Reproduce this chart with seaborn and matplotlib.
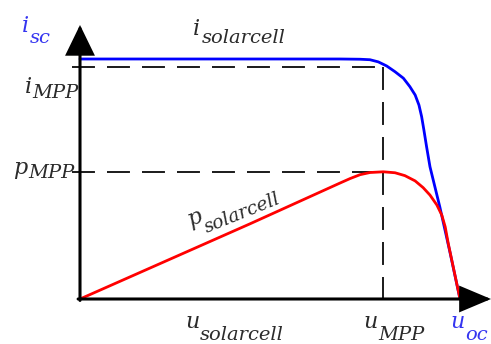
import matplotlib
matplotlib.use("Agg")
import matplotlib.pyplot as plt
from matplotlib.patches import FancyArrowPatch, ArrowStyle
import pandas as pd
import seaborn as sns

# Solar cell characteristics, normalised so that u_oc = 1 and i_sc = 1
u_iv = [0.0, 0.30, 0.684, 0.737, 0.763, 0.785, 0.807, 0.829, 0.851, 0.868,
        0.882, 0.892, 0.899, 0.905, 0.912, 0.921, 0.947, 0.974, 1.0]
i_iv = [1.0, 1.0, 1.0, 0.999, 0.997, 0.988, 0.971, 0.947, 0.920, 0.885,
        0.850, 0.808, 0.760, 0.704, 0.635, 0.551, 0.383, 0.192, 0.0]

u_pv = [0.0, 0.447, 0.684, 0.711, 0.737, 0.763, 0.798, 0.829, 0.855, 0.882,
        0.903, 0.921, 0.939, 0.952, 0.961, 0.969, 0.982, 1.0]
p_pv = [0.0, 0.313, 0.483, 0.502, 0.518, 0.527, 0.530, 0.526, 0.514, 0.492,
        0.464, 0.433, 0.392, 0.350, 0.301, 0.232, 0.135, 0.0]

# Operating points
U_MPP, I_MPP, P_MPP = 0.797, 0.965, 0.529
U_OC, I_SC = 1.0, 1.0

iv = pd.DataFrame({"u": u_iv, "val": i_iv})
pv = pd.DataFrame({"u": u_pv, "val": p_pv})

sns.set_style("white")
TXT = "#2b2b2b"
BLUE_TXT = "#3535f0"

fig = plt.figure(figsize=(4.91, 3.44), dpi=100)
ax = fig.add_axes([0, 0, 1, 1])


def px(x, y):
    """Figure pixel position -> data coordinates (for label placement)."""
    return ((x - 80) / 380, (299 - y) / 240)


# dashed guide lines to the maximum power point
dash = (0, (11.8, 6.2))
ax.plot([-0.021, U_MPP], [I_MPP, I_MPP], color="#1a1a1a", lw=1.4, ls=dash,
        zorder=2)
ax.plot([-0.021, U_MPP], [P_MPP, P_MPP], color="#1a1a1a", lw=1.4, ls=dash,
        zorder=2)
ax.plot([U_MPP, U_MPP], [I_MPP, -0.046], color="#1a1a1a", lw=1.4, ls=dash,
        zorder=2)

# curves
sns.lineplot(data=iv, x="u", y="val", ax=ax, color="#0000ff", lw=2.0,
             sort=False, estimator=None, zorder=4)
sns.lineplot(data=pv, x="u", y="val", ax=ax, color="#ff0000", lw=2.0,
             sort=False, estimator=None, zorder=5)
ax.set_xlim(-80 / 380, 411 / 380)
ax.set_ylim(-45 / 240, 299 / 240)
ax.axis("off")

# axes with arrow heads
for a, b, hl, hw in [((0, -0.006), (0, 1.1417), 18.5, 9.0),
                     ((-0.005, 0), (1.0816, 0), 19.0, 8.0)]:
    arr = FancyArrowPatch(a, b, arrowstyle=ArrowStyle("-|>", head_length=hl,
                                                      head_width=hw),
                          mutation_scale=1, lw=2.2, color="black",
                          shrinkA=0, shrinkB=0, clip_on=False, zorder=6,
                          joinstyle="miter")
    ax.add_patch(arr)


def label(main, sub, pm, ps, color=TXT, rot=0, sub_size=14):
    ax.text(*px(*pm), main, fontsize=16, family="DejaVu Serif",
            style="italic", color=color, ha="left", va="baseline",
            rotation=rot, rotation_mode="anchor")
    ax.text(*px(*ps), sub, fontsize=sub_size, family="DejaVu Serif",
            style="italic", color=color, ha="left", va="baseline",
            rotation=rot, rotation_mode="anchor")


label("i", "sc", (22, 32), (30, 43), color=BLUE_TXT)
label("i", "solarcell", (193, 35), (202, 43))
label("i", "MPP", (25, 93), (32, 98))
label("p", "MPP", (13, 174), (28, 178))
label("p", "solarcell", (190, 226), (207, 233), rot=22, sub_size=13.5)
label("u", "solarcell", (185, 328), (200, 339.5))
label("u", "MPP", (363, 328), (378, 339.5))
label("u", "oc", (450, 328), (465, 339.5), color=BLUE_TXT)

fig.savefig("out.png", dpi=100, facecolor="white")
